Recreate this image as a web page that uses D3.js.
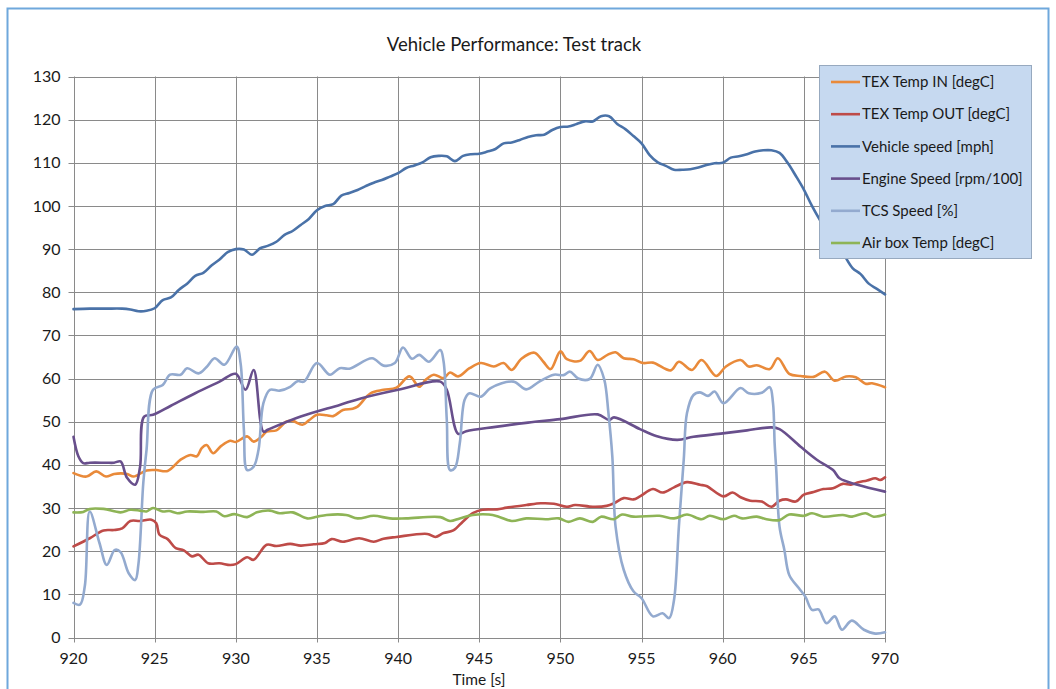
<!DOCTYPE html>
<html><head><meta charset="utf-8">
<script src="https://cdn.jsdelivr.net/npm/d3@7"></script>
<style>
html,body{margin:0;padding:0;background:#fff;}
svg{display:block;font-family:Lato,"Open Sans",sans-serif;}
</style></head>
<body>
<svg id="chart" width="1056" height="689"></svg>
<script>
const title = "Vehicle Performance: Test track";
const xTitle = "Time [s]";
const xTicks = [920,925,930,935,940,945,950,955,960,965,970];
const yTicks = [0,10,20,30,40,50,60,70,80,90,100,110,120,130];
const seriesNames = ["TEX Temp IN [degC]","TEX Temp OUT [degC]","Vehicle speed [mph]","Engine Speed [rpm/100]","TCS Speed [%]","Air box Temp [degC]"];
const seriesColors = ["#E98A3A","#BE4B48","#4A72A8","#684F8C","#93AACF","#8EB456"];

const texIn = [[920,38.1],[920.8,37.3],[921.4,38.5],[922,37.3],[922.5,37.9],[923.3,37.9],[923.7,37.3],[924.5,38.7],[925.1,38.8],[925.8,38.6],[926.6,41.2],[927.2,42.3],[927.6,42.0],[927.9,43.9],[928.2,44.6],[928.6,42.7],[929.1,44.4],[929.65,45.6],[930,45.3],[930.7,46.6],[931.1,45.4],[931.6,46.6],[931.9,47.7],[932.5,48],[933.1,50],[933.5,50.2],[934.1,49.3],[934.5,50.3],[935,51.6],[935.6,51.5],[936,51.3],[936.6,52.7],[937.2,53],[937.5,53.5],[938.3,56.6],[939.1,57.4],[939.9,57.9],[940.7,60.5],[941.3,58.1],[941.7,59.7],[942.2,60.9],[942.8,60.1],[943.2,61.4],[943.7,60.5],[944.4,62.4],[945.1,63.6],[945.9,62.8],[946.5,63.6],[947,62.0],[947.6,64.6],[948.4,66.0],[948.95,63.9],[949.4,62.2],[950,66.3],[950.4,64.5],[951.2,64.1],[951.8,66.4],[952.3,64.3],[952.9,65.5],[953.4,66.1],[953.9,64.7],[954.5,64.5],[955.1,63.6],[955.7,63.7],[956.8,61.9],[957.3,63.9],[958.1,62.0],[958.7,64.3],[959.6,60.6],[960.2,62.8],[961.1,64.3],[961.6,62.8],[962.1,63.1],[962.9,62.2],[963.4,64.7],[964.1,61.1],[964.8,60.6],[965.6,60.4],[966.3,61.6],[966.9,59.5],[967.6,60.5],[968.2,60.3],[968.8,58.8],[969.2,58.9],[970,58.0]];

const texOut = [[920,21.1],[921,23],[921.85,24.8],[922.5,24.9],[923,25.3],[923.5,27.0],[924.1,27],[924.8,27.3],[925.1,26.5],[925.3,23.8],[925.8,22.8],[926.3,20.7],[926.8,20.2],[927.3,18.8],[927.7,19.2],[928.3,17.2],[929,17.2],[929.65,16.8],[930,17],[930.7,18.6],[931.1,18],[931.9,21.5],[932.5,21.2],[933.35,21.7],[934,21.3],[934.8,21.6],[935.5,21.9],[935.9,22.8],[936.6,22.2],[937.6,23.0],[938.5,22.2],[939.1,22.9],[939.9,23.3],[941.8,24.0],[942.3,23.3],[942.8,24.2],[943.4,24.8],[944,26.9],[944.6,28.8],[945.2,29.6],[946.1,29.7],[946.7,30.1],[947.9,30.7],[948.8,31.1],[949.6,31.0],[950.4,30.3],[950.9,30.7],[952,30.3],[952.85,30.5],[953.3,31.1],[953.9,32.3],[954.5,32],[954.9,32.7],[955.7,34.4],[956.3,33.6],[957,34.8],[957.8,36],[958.6,35.4],[959,35.1],[960.05,32.7],[960.6,33.6],[961.1,32.5],[961.7,31.7],[962.4,31.5],[963,30.3],[963.5,31.7],[963.9,32],[964.5,31.5],[965,33.1],[965.6,33.7],[966.2,34.4],[966.8,34.6],[967.4,35.6],[967.9,35.4],[968.3,35.9],[968.9,36.4],[969.4,36.9],[969.7,36.5],[970,37.1]];

const vehicle = [[920,76.1],[921,76.2],[922,76.2],[923,76.2],[923.5,76.0],[924,75.6],[924.5,75.7],[925,76.3],[925.5,78.2],[926,78.8],[926.5,80.6],[927,82],[927.5,83.8],[928,84.5],[928.5,86.2],[929,87.6],[929.5,89.3],[930,90],[930.5,89.9],[931,88.7],[931.5,90.2],[932,90.8],[932.5,91.7],[933,93.3],[933.5,94.2],[934,95.6],[934.5,97],[935,99],[935.5,100],[936,100.4],[936.5,102.4],[937,103],[937.5,103.7],[938,104.6],[938.5,105.4],[939,106],[939.5,106.8],[940,107.6],[940.5,108.8],[941,109.4],[941.5,110.1],[942,111.3],[942.5,111.6],[943,111.5],[943.5,110.4],[944,111.6],[944.5,112],[945,112.1],[945.5,112.6],[946,113.2],[946.5,114.5],[947,114.7],[947.5,115.3],[948,116],[948.5,116.4],[949,116.5],[949.5,117.6],[950,118.3],[950.5,118.4],[951,119],[951.5,119.6],[952,119.6],[952.5,120.8],[953,120.8],[953.5,119],[954,117.8],[954.5,116.2],[955,114.5],[955.5,111.8],[956,110.1],[956.5,109.3],[957,108.4],[957.5,108.4],[958,108.5],[958.5,108.9],[959,109.5],[959.5,109.9],[960,110],[960.5,111.2],[961,111.5],[961.5,112],[962,112.6],[962.5,112.9],[963,112.9],[963.5,112.3],[964,110],[964.5,107],[965,103.8],[965.5,100],[966,96.7],[966.5,94],[967,91.3],[967.5,88.5],[968,85.6],[968.5,84.2],[969,82],[969.5,80.8],[970,79.5]];

const engine = [[920,46.5],[920.3,42],[920.6,40.4],[921,40.5],[922,40.5],[922.5,40.5],[922.9,40.8],[923.3,37],[923.8,35.4],[924.1,39.5],[924.35,51.2],[924.9,51.6],[926,53.7],[927.5,56.6],[929,59.3],[930,61.1],[930.6,57.4],[931.1,62],[931.7,47.7],[932,48.2],[934,51.2],[936.4,53.9],[937.7,55.4],[940,57.4],[942.6,59.3],[943,57.4],[943.7,47.2],[944.2,47.8],[946,48.8],[948,49.8],[950,50.6],[952.3,51.7],[953,50.4],[953.3,51.0],[954.9,48.3],[955.9,46.7],[957.2,45.8],[958.2,46.5],[960,47.3],[961.5,48],[963,48.7],[963.5,48.3],[964.8,44.2],[965.8,41.2],[966.8,38.8],[967.2,36.9],[968.3,35.4],[970,33.8]];

const tcs = [[920,8.0],[920.4,7.6],[920.7,12],[921,29.2],[921.6,21.9],[922.05,16.8],[922.55,20.3],[922.9,19.8],[923.4,14.9],[923.8,13.3],[924,17],[924.3,35.8],[924.5,43.5],[924.9,57.4],[925.5,58.5],[925.95,60.9],[926.6,60.9],[927,62.4],[927.7,61.2],[928.2,62.7],[928.7,64.7],[929.3,63.2],[930.05,67.4],[930.3,63.4],[930.5,48],[930.7,38.8],[931.1,39.6],[931.4,43.5],[931.7,54.3],[932.1,57.4],[932.7,57.2],[933.35,58.1],[933.8,59.4],[934.2,59.3],[935,63.6],[935.8,60.9],[936.4,62.4],[937,62.3],[938.4,64.7],[939.1,63.0],[939.8,63.6],[940.3,67.2],[940.85,64.6],[941.3,65.5],[941.9,63.9],[942.6,66.6],[942.8,64],[943,50.4],[943.2,38.8],[943.5,39.3],[943.8,45],[944.1,55.1],[944.4,56.6],[945.1,55.8],[945.7,57.8],[947.1,59.3],[947.9,57.5],[948.7,59.3],[949.6,60.9],[950.2,60.8],[950.6,61.6],[951.1,60.0],[951.8,59.9],[952.3,63.2],[952.7,59.8],[952.96,52],[953.2,41.9],[953.4,25.7],[953.9,15.7],[954.5,10.7],[955,9.1],[955.7,4.9],[956.3,5.6],[956.7,4.5],[957,8.7],[957.3,25.7],[957.6,41.2],[957.8,52],[958.2,56.2],[958.6,56.8],[959.1,56],[959.5,57],[960.05,54.3],[961.1,57.8],[961.6,56.6],[962.4,56.7],[962.9,58.0],[963.1,54.3],[963.2,45.0],[963.3,38.8],[963.5,25.7],[963.8,20.3],[964.1,14.5],[964.7,11.4],[965.1,9.4],[965.5,6.4],[965.9,6.5],[966.4,3.3],[966.9,4.9],[967.35,1.8],[967.95,3.9],[968.7,1.8],[969.4,0.9],[970,1.2]];

const airbox = [[920,29.0],[920.6,29.1],[921,29.8],[921.85,29.8],[922.9,29.0],[923.5,29.6],[924.1,29.4],[924.5,29.2],[924.9,30.0],[925.5,29.2],[925.9,29.3],[926.4,28.8],[927,29.2],[928,29.1],[928.8,29.2],[929.3,28.1],[929.9,28.6],[930.7,27.9],[931.3,29],[932.1,29.4],[932.7,28.8],[933.5,29],[934.4,27.6],[935,28.0],[935.6,28.4],[936.8,28.4],[937.5,27.6],[938.5,28.2],[939.5,27.6],[940.5,27.6],[942.6,27.9],[943.2,27.0],[943.8,27.6],[944.6,28.4],[945.6,28.5],[946.2,28.0],[947,27.0],[947.9,27.6],[949.1,27.4],[949.9,27.6],[950.5,26.8],[951.2,27.6],[952,26.8],[952.5,28],[953.3,27.4],[953.8,28.5],[954.5,28.0],[956.1,28.2],[957,27.6],[957.8,28.5],[958.7,27.4],[959.2,28.2],[960.05,27.4],[960.7,28.2],[961.2,27.6],[962.1,28.0],[962.7,27.4],[963.5,27.2],[964.1,28.5],[965,28.2],[965.5,28.8],[966.2,28.0],[967.4,28.4],[967.9,28.0],[968.8,28.8],[969.3,28.0],[970,28.5]];

const seriesData = [texIn, texOut, vehicle, engine, tcs, airbox];

const svg = d3.select("#chart");
const plot = {left: 73.5, right: 885, top: 76.5, bottom: 637.5};

svg.append("rect").attr("x",7.5).attr("y",8.5).attr("width",1041).attr("height",700)
  .attr("fill","#fff").attr("stroke","#6FA8DC").attr("stroke-width",2);

const x = d3.scaleLinear().domain([920,970]).range([plot.left, plot.right]);
const y = d3.scaleLinear().domain([0,130]).range([plot.bottom, plot.top]);

const gridColor = "#8a8a8a";
svg.append("g").selectAll("line").data(yTicks).join("line")
  .attr("x1",plot.left-5).attr("x2",plot.right)
  .attr("y1",d=>Math.round(y(d))+0.5).attr("y2",d=>Math.round(y(d))+0.5)
  .attr("stroke",gridColor).attr("stroke-width",1);
svg.append("g").selectAll("line").data(xTicks).join("line")
  .attr("y1",plot.top).attr("y2",plot.bottom+5)
  .attr("x1",d=>Math.round(x(d))+0.5).attr("x2",d=>Math.round(x(d))+0.5)
  .attr("stroke",gridColor).attr("stroke-width",1);

svg.append("g").selectAll("text").data(yTicks).join("text")
  .attr("x",plot.left-13).attr("y",d=>y(d)).attr("dy","0.35em")
  .attr("text-anchor","end").attr("font-size",16).attr("fill","#1a1a1a")
  .text(d=>d);
svg.append("g").selectAll("text").data(xTicks).join("text")
  .attr("x",d=>x(d)).attr("y",plot.bottom+21).attr("dy","0.35em")
  .attr("text-anchor","middle").attr("font-size",16).attr("fill","#1a1a1a")
  .text(d=>d);

svg.append("text").attr("x",514).attr("y",45).attr("dy","0.35em").attr("text-anchor","middle")
  .attr("font-size",18.5).attr("fill","#1a1a1a").text(title);
svg.append("text").attr("x",479).attr("y",680).attr("dy","0.35em").attr("text-anchor","middle")
  .attr("font-size",15.5).attr("fill","#1a1a1a").text(xTitle);

const line = d3.line().x(d=>x(d[0])).y(d=>y(d[1])).curve(d3.curveCatmullRom.alpha(0.5));
svg.append("g").selectAll("path").data(seriesData).join("path")
  .attr("d",line).attr("fill","none")
  .attr("stroke",(d,i)=>seriesColors[i]).attr("stroke-width",2.6)
  .attr("stroke-linejoin","round").attr("stroke-linecap","round");

const lg = svg.append("g");
lg.append("rect").attr("x",819.5).attr("y",65.5).attr("width",212).attr("height",193)
  .attr("fill","#C6D9F0").attr("stroke","#97A9BF").attr("stroke-width",1);
const items = lg.selectAll("g").data(seriesNames).join("g")
  .attr("transform",(d,i)=>`translate(0,${82+i*32.2})`);
items.append("line").attr("x1",831).attr("x2",860).attr("y1",0).attr("y2",0)
  .attr("stroke",(d,i)=>seriesColors[i]).attr("stroke-width",2.6);
items.append("text").attr("x",862).attr("y",0).attr("dy","0.35em")
  .attr("font-size",15).attr("fill","#1a1a1a").text(d=>d);
</script>
</body></html>
